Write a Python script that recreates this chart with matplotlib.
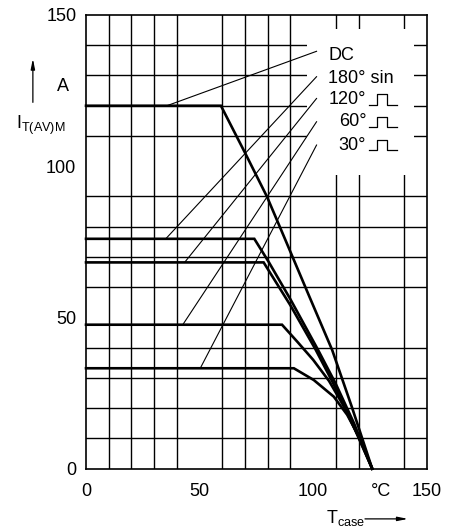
import matplotlib
matplotlib.use("Agg")
import matplotlib.pyplot as plt
from matplotlib.patches import Rectangle
import numpy as np

plt.rcParams['font.family'] = ['Liberation Sans', 'DejaVu Sans']
plt.rcParams['mathtext.fontset'] = 'custom'
plt.rcParams['mathtext.rm'] = 'Liberation Sans'

# ---- data ----
dc_x = [0, 59.4, 70.1, 79.7, 87.8, 98.0, 108.4, 117.0, 126.0]
dc_y = [120, 120, 104.3, 89.9, 75.6, 57.5, 39.2, 20.5, 0]

sin180_x = [0, 74.1, 80.4, 90.0, 102.0, 110.0, 118.0, 126.0]
sin180_y = [76, 76, 68.4, 56.0, 39.5, 28.0, 15.0, 0]

rect120_x = [0, 78.2, 90.0, 101.0, 109.0, 117.5, 126.0]
rect120_y = [68.2, 68.2, 54.0, 39.5, 28.0, 14.5, 0]

rect60_x = [0, 86.3, 93.0, 100.0, 107.0, 114.0, 120.0, 126.0]
rect60_y = [47.6, 47.6, 42.0, 36.0, 29.0, 20.0, 10.5, 0]

rect30_x = [0, 91.5, 100.3, 109.1, 115.0, 120.9, 126.0]
rect30_y = [33.2, 33.2, 29.3, 23.8, 17.8, 9.5, 0]

curve_labels = ['DC', '180° sin', '120°', '60°', '30°']
label_x = [106.7, 106.7, 106.7, 111.3, 111.3]
label_y = [136.7, 129.0, 122.2, 114.7, 107.0]
has_pulse = [False, False, True, True, True]

# leader lines: start on the curve, end near the label
leader_start = [(35.6, 120.0), (35.1, 76.0), (43.4, 68.2), (42.6, 47.6), (50.3, 33.2)]
leader_end = [(101.5, 138.0), (101.5, 129.6), (101.5, 122.4), (101.5, 114.7), (101.5, 107.0)]

xticks = [0, 50, 100, 130, 150]
xticklabels = ['0', '50', '100', '°C', '150']
yticks = [0, 50, 100, 150]
yticklabels = ['0', '50', '100', '150']

# ---- figure ----
fig = plt.figure(figsize=(4.6, 5.3), dpi=100)
ax = fig.add_axes([0.187, 0.1157, 0.9276 - 0.187, 0.9717 - 0.1157])
ax.set_xlim(0, 150)
ax.set_ylim(0, 150)

# grid every 10
ax.set_xticks(np.arange(0, 151, 10), minor=True)
ax.set_yticks(np.arange(0, 151, 10), minor=True)
ax.grid(which='minor', color='black', linewidth=1.0, zorder=1)
ax.set_axisbelow(True)
ax.set_xticks(xticks)
ax.set_xticklabels(xticklabels)
ax.set_yticks(yticks)
ax.set_yticklabels(yticklabels)
ax.tick_params(which='both', length=0, labelsize=13)
ax.tick_params(axis='x', pad=10.5)
ax.tick_params(axis='y', pad=7)
for s in ax.spines.values():
    s.set_linewidth(1.2)
    s.set_zorder(5)

# white label box covering the grid
ax.add_patch(Rectangle((97.5, 97.0), 47.0, 48.5, facecolor='white',
                       edgecolor='none', zorder=2))

# curves
for xs, ys in [(dc_x, dc_y), (sin180_x, sin180_y), (rect120_x, rect120_y),
               (rect60_x, rect60_y), (rect30_x, rect30_y)]:
    ax.plot(xs, ys, color='black', linewidth=1.9, zorder=4,
            solid_joinstyle='miter', clip_on=False)

# leader lines
for (x0, y0), (x1, y1) in zip(leader_start, leader_end):
    ax.plot([x0, x1], [y0, y1], color='black', linewidth=0.8, zorder=3)

# labels with pulse symbols
for txt, lx, ly, p in zip(curve_labels, label_x, label_y, has_pulse):
    ax.text(lx, ly, txt, fontsize=13, ha='left', va='center', zorder=6)
    if p:
        px = [124.5, 128.2, 128.2, 132.6, 132.6, 137.0]
        py = [ly - 1.8, ly - 1.8, ly + 1.7, ly + 1.7, ly - 1.8, ly - 1.8]
        ax.plot(px, py, color='black', linewidth=0.9, zorder=6)

# y axis annotation
ax.annotate('', xy=(-23.4, 136.5), xytext=(-23.4, 120.2),
            arrowprops=dict(arrowstyle='-|>,head_length=0.6,head_width=0.12',
                            color='black', lw=0.9),
            annotation_clip=False)
ax.text(-10.1, 126.5, 'A', fontsize=13, ha='center', va='center')
ax.text(-31.0, 113.5, r'$\mathregular{I_{T(AV)M}}$', fontsize=13,
        ha='left', va='center')

# x axis annotation
ax.text(114.2, -16.2, r'$\mathregular{T_{case}}$', fontsize=13,
        ha='center', va='center', clip_on=False)
ax.annotate('', xy=(143.0, -16.6), xytext=(121.6, -16.6),
            arrowprops=dict(arrowstyle='-|>,head_length=0.6,head_width=0.12',
                            color='black', lw=0.9),
            annotation_clip=False)

fig.savefig('out.png', dpi=100)
